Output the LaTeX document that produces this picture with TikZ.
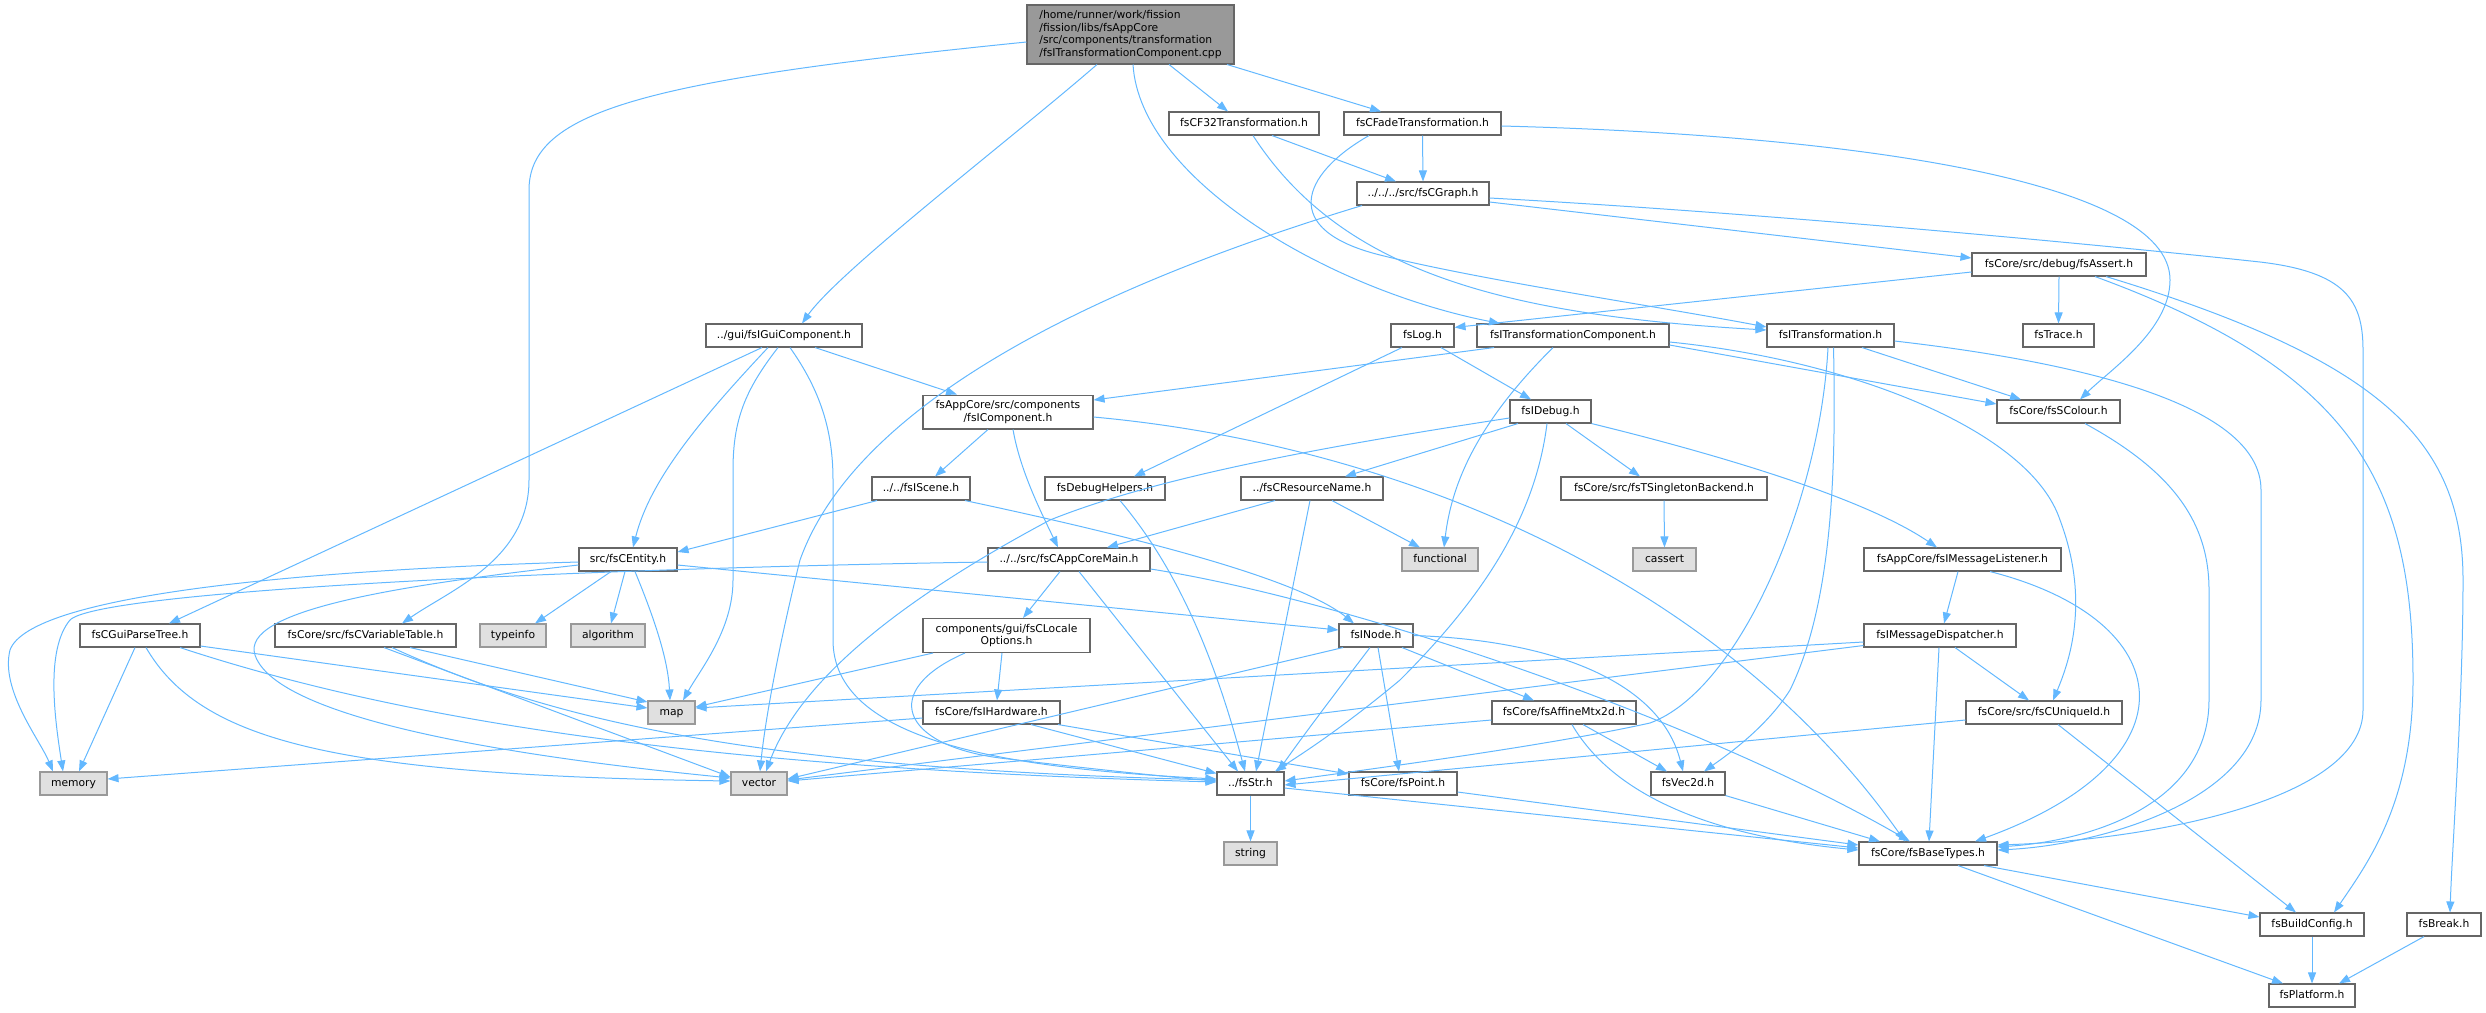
\documentclass[tikz,border=0pt]{standalone}
\usepackage{fontspec}
\setmainfont{DejaVu Sans}
\usetikzlibrary{arrows.meta}
\definecolor{edgecol}{HTML}{63B8FF}
\definecolor{boxline}{HTML}{666666}
\definecolor{extline}{HTML}{999999}
\definecolor{extfill}{HTML}{E0E0E0}
\definecolor{mainfill}{HTML}{999999}
\tikzset{
  box/.style={draw=boxline, line width=1.1pt, fill=white, minimum height=23pt, inner xsep=2pt, inner ysep=2pt, text height=8pt, text depth=2.4pt, anchor=center},
  mbox/.style={draw=boxline, line width=1.1pt, fill=white, inner xsep=2pt, inner ysep=5.5pt, align=center, anchor=center},
  ext/.style={box, draw=extline, fill=extfill},
  dep/.style={draw=edgecol, line width=1pt, -{Triangle[length=11pt,width=8pt]}}
}
\begin{document}
\begin{tikzpicture}[x=1pt,y=-1pt, font=\fontsize{10.75pt}{12.5pt}\selectfont]
\useasboundingbox (0,0) rectangle (2486,1012);
% nodes
\node[mbox, fill=mainfill, align=left, minimum width=207pt] (main) at (1130.5,34.5) {/home/runner/work/fission\\/fission/libs/fsAppCore\\/src/components/transformation\\/fsITransformationComponent.cpp};
\node[box, minimum width=150pt] (CF32) at (1244,123.5) {fsCF32Transformation.h};
\node[box, minimum width=157pt] (CFade) at (1422.5,123.5) {fsCFadeTransformation.h};
\node[box, minimum width=132pt] (CGraph) at (1423,193.5) {../../../src/fsCGraph.h};
\node[box, minimum width=174pt] (Assert) at (2059,264.5) {fsCore/src/debug/fsAssert.h};
\node[box, minimum width=156pt] (GuiComp) at (784,335.5) {../gui/fsIGuiComponent.h};
\node[box, minimum width=63pt] (Log) at (1422.5,335.5) {fsLog.h};
\node[box, minimum width=192pt] (ITC) at (1573,335.5) {fsITransformationComponent.h};
\node[box, minimum width=127pt] (ITrans) at (1830.5,335.5) {fsITransformation.h};
\node[box, minimum width=71pt] (Trace) at (2058.5,335.5) {fsTrace.h};
\node[mbox, minimum width=170pt] (IComp) at (1008,412) {fsAppCore/src/components\\/fsIComponent.h};
\node[box, minimum width=81pt] (IDebug) at (1550.5,411.5) {fsIDebug.h};
\node[box, minimum width=123pt] (SColour) at (2058.5,411.5) {fsCore/fsSColour.h};
\node[box, minimum width=98pt] (IScene) at (921,488.5) {../../fsIScene.h};
\node[box, minimum width=120pt] (DebugHelpers) at (1105,488.5) {fsDebugHelpers.h};
\node[box, minimum width=142pt] (CResName) at (1312,488.5) {../fsCResourceName.h};
\node[box, minimum width=206pt] (TSingleton) at (1664,488.5) {fsCore/src/fsTSingletonBackend.h};
\node[box, minimum width=98pt] (CEntity) at (628,559.5) {src/fsCEntity.h};
\node[box, minimum width=162pt] (CAppCoreMain) at (1069,559.5) {../../src/fsCAppCoreMain.h};
\node[ext, minimum width=76pt] (functional) at (1440,559.5) {functional};
\node[ext, minimum width=63pt] (cassert) at (1664.5,559.5) {cassert};
\node[box, minimum width=197pt] (IMsgListener) at (1962.5,559.5) {fsAppCore/fsIMessageListener.h};
\node[box, minimum width=120pt] (CGuiParseTree) at (140,635.5) {fsCGuiParseTree.h};
\node[box, minimum width=181pt] (CVarTable) at (365.5,635.5) {fsCore/src/fsCVariableTable.h};
\node[ext, minimum width=66pt] (typeinfo) at (513,635.5) {typeinfo};
\node[ext, minimum width=74pt] (algorithm) at (608,635.5) {algorithm};
\node[mbox, minimum width=167pt] (CLocale) at (1006.5,635.5) {components/gui/fsCLocale\\Options.h};
\node[box, minimum width=74pt] (INode) at (1376,635.5) {fsINode.h};
\node[box, minimum width=152pt] (IMsgDispatcher) at (1940,635.5) {fsIMessageDispatcher.h};
\node[ext, minimum width=47pt] (map) at (671.5,712.5) {map};
\node[box, minimum width=137pt] (IHardware) at (991.5,712.5) {fsCore/fsIHardware.h};
\node[box, minimum width=144pt] (AffineMtx) at (1564,712.5) {fsCore/fsAffineMtx2d.h};
\node[box, minimum width=156pt] (CUniqueId) at (2044,712.5) {fsCore/src/fsCUniqueId.h};
\node[ext, minimum width=67pt] (memory) at (73.5,783.5) {memory};
\node[ext, minimum width=56pt] (vector) at (759,783.5) {vector};
\node[box, minimum width=67pt] (Str) at (1250.5,783.5) {../fsStr.h};
\node[box, minimum width=108pt] (Point) at (1403,783.5) {fsCore/fsPoint.h};
\node[box, minimum width=74pt] (Vec2d) at (1688,783.5) {fsVec2d.h};
\node[ext, minimum width=53pt] (string) at (1250.5,853.5) {string};
\node[box, minimum width=138pt] (BaseTypes) at (1928,853.5) {fsCore/fsBaseTypes.h};
\node[box, minimum width=104pt] (BuildConfig) at (2312,924.5) {fsBuildConfig.h};
\node[box, minimum width=74pt] (Break) at (2444,924.5) {fsBreak.h};
\node[box, minimum width=86pt] (Platform) at (2312,995.5) {fsPlatform.h};
% edges
\draw[dep] ([xshift=-33.5pt]main.south) .. controls (1010,140) and (840,270) .. ([xshift=18pt]GuiComp.north);
\draw[dep] ([yshift=-7.5pt]main.west) .. controls (650,80) and (529,110) .. (529,190) -- (529,480) .. controls (529,560) and (450,590) .. ([xshift=36.5pt]CVarTable.north);
\draw[dep] ([xshift=2.5pt]main.south) .. controls (1140,180) and (1330,290) .. ([xshift=-73pt]ITC.north);
\draw[dep] ([xshift=38.5pt]main.south) -- ([xshift=-16pt]CF32.north);
\draw[dep] ([xshift=96.5pt]main.south) -- ([xshift=-41.5pt]CFade.north);
\draw[dep] ([xshift=28pt]CF32.south) -- ([xshift=-27pt]CGraph.north);
\draw[dep] ([xshift=9pt]CF32.south) .. controls (1340,270) and (1500,315) .. ([yshift=5.5pt]ITrans.west);
\draw[dep] (CFade.south) -- (CGraph.north);
\draw[dep] ([xshift=-53.5pt]CFade.south) .. controls (1300,175) and (1280,230) .. (1380,255) .. controls (1480,280) and (1650,305) .. ([yshift=8.5pt]ITrans.west);
\draw[dep] ([yshift=-2.5pt]CFade.east) .. controls (1850,135) and (2170,180) .. (2170,280) .. controls (2170,330) and (2110,370) .. ([xshift=21.5pt]SColour.north);
\draw[dep] ([xshift=-61pt]CGraph.south) .. controls (1050,300) and (850,420) .. (800,560) .. controls (780,640) and (765,720) .. ([xshift=1pt]vector.north);
\draw[dep] ([yshift=-8.5pt]CGraph.east) -- ([yshift=6.5pt]Assert.west);
\draw[dep] ([yshift=-4.5pt]CGraph.east) .. controls (1800,215) and (2150,250) .. (2260,262) .. controls (2345,272) and (2363,300) .. (2363,350) -- (2363,710) .. controls (2363,800) and (2150,840) .. ([yshift=8.5pt]BaseTypes.east);
\draw[dep] ([yshift=-7.5pt]Assert.west) -- ([yshift=-4pt]Log.north east);
\draw[dep] (Assert.south) -- (Trace.north);
\draw[dep] ([xshift=36pt]Assert.south) .. controls (2350,370) and (2413,480) .. (2413,680) .. controls (2413,800) and (2370,860) .. ([xshift=22pt]BuildConfig.north);
\draw[dep] ([xshift=47pt]Assert.south) .. controls (2380,360) and (2463,440) .. (2463,580) .. controls (2463,700) and (2452,850) .. ([xshift=6pt]Break.north);
\draw[dep] ([xshift=31.5pt]ITrans.south) -- ([xshift=-37.5pt]SColour.north);
\draw[dep] ([yshift=-5.5pt]ITrans.east) .. controls (2060,360) and (2261,400) .. (2261,490) -- (2261,700) .. controls (2261,800) and (2100,845) .. ([yshift=3.5pt]BaseTypes.east);
\draw[dep] ([xshift=-2.5pt]ITrans.south) .. controls (1820,500) and (1740,690) .. (1650,723) .. controls (1550,745) and (1400,765) .. ([yshift=2.5pt]Str.east);
\draw[dep] ([xshift=3pt]ITrans.south) .. controls (1836,460) and (1834,600) .. (1790,690) .. controls (1765,730) and (1720,760) .. ([xshift=16pt]Vec2d.north);
\draw[dep] ([xshift=-79pt]ITC.south) -- ([yshift=12pt]IComp.east);
\draw[dep] ([xshift=-20pt]ITC.south) .. controls (1480,420) and (1452,480) .. ([xshift=4pt]functional.north);
\draw[dep] ([yshift=-9.5pt]ITC.east) -- ([yshift=7.5pt]SColour.west);
\draw[dep] ([yshift=-6.5pt]ITC.east) .. controls (1850,360) and (2030,430) .. (2060,520) .. controls (2090,600) and (2070,660) .. ([xshift=9pt]CUniqueId.north);
\draw[dep] ([xshift=18.5pt]Log.south) -- ([xshift=-19.5pt]IDebug.north);
\draw[dep] ([xshift=-20.5pt]Log.south) -- ([xshift=29pt]DebugHelpers.north);
\draw[dep] ([xshift=-22pt]GuiComp.south) -- ([xshift=29pt]CGuiParseTree.north);
\draw[dep] ([xshift=-16pt]GuiComp.south) .. controls (700,420) and (650,480) .. ([xshift=5pt]CEntity.north);
\draw[dep] ([xshift=-6pt]GuiComp.south) .. controls (745,390) and (733,420) .. (733,470) -- (733,580) .. controls (733,630) and (700,670) .. ([xshift=11.5pt]map.north);
\draw[dep] ([xshift=6pt]GuiComp.south) .. controls (820,390) and (833,430) .. (833,480) -- (833,640) .. controls (833,740) and (1000,768) .. ([yshift=4.5pt]Str.west);
\draw[dep] ([xshift=31pt]GuiComp.south) -- ([xshift=-51pt]IComp.north);
\draw[dep] ([xshift=-20pt]IComp.south) -- ([xshift=14pt]IScene.north);
\draw[dep] ([xshift=5pt]IComp.south) .. controls (1020,470) and (1040,510) .. ([xshift=-11pt]CAppCoreMain.north);
\draw[dep] ([yshift=-5pt]IComp.east) .. controls (1400,445) and (1720,580) .. ([xshift=-23pt]BaseTypes.north);
\draw[dep] ([xshift=-44pt]IScene.south) -- ([yshift=7.5pt]CEntity.east);
\draw[dep] ([xshift=44pt]IScene.south) .. controls (1150,540) and (1300,580) .. ([xshift=-22pt]INode.north);
\draw[dep] ([xshift=15pt]DebugHelpers.south) .. controls (1170,560) and (1210,640) .. ([xshift=-5.5pt]Str.north);
\draw[dep] ([xshift=-37pt]CResName.south) -- ([xshift=38pt]CAppCoreMain.north);
\draw[dep] ([xshift=-2pt]CResName.south) -- ([xshift=5.5pt]Str.north);
\draw[dep] ([xshift=20pt]CResName.south) -- ([xshift=-20pt]functional.north);
\draw[dep] ([xshift=-32.5pt]IDebug.south) -- ([xshift=33pt]CResName.north);
\draw[dep] ([yshift=-6.5pt]IDebug.west) .. controls (1300,450) and (1150,480) .. (1050,520) .. controls (900,600) and (800,680) .. ([xshift=7pt]vector.north);
\draw[dep] ([xshift=15.5pt]IDebug.south) -- ([xshift=-24pt]TSingleton.north);
\draw[dep] ([xshift=-3.5pt]IDebug.south) .. controls (1535,520) and (1480,600) .. (1400,680) .. controls (1340,730) and (1300,755) .. ([xshift=24.5pt]Str.north);
\draw[dep] (IDebug.south east) .. controls (1700,450) and (1860,495) .. ([xshift=-25.5pt]IMsgListener.north);
\draw[dep] (TSingleton.south) -- (cassert.north);
\draw[dep] ([yshift=-2.5pt]CEntity.west) .. controls (300,570) and (30,595) .. (10,650) .. controls (0,690) and (40,740) .. ([xshift=-20.5pt]memory.north);
\draw[dep] ([yshift=-5.5pt]CEntity.west) .. controls (400,585) and (240,610) .. (255,655) .. controls (280,730) and (600,765) .. ([yshift=5.5pt]vector.west);
\draw[dep] ([xshift=-17pt]CEntity.south) -- ([xshift=22pt]typeinfo.north);
\draw[dep] ([xshift=-3pt]CEntity.south) -- ([xshift=3pt]algorithm.north);
\draw[dep] ([xshift=7pt]CEntity.south) .. controls (655,620) and (668,660) .. ([xshift=-1.5pt]map.north);
\draw[dep] ([yshift=-5.5pt]CEntity.east) -- ([yshift=5.5pt]INode.west);
\draw[dep] ([xshift=-9pt]CAppCoreMain.south) -- ([xshift=16.5pt]CLocale.north);
\draw[dep] ([xshift=10pt]CAppCoreMain.south) -- ([xshift=-12.5pt]Str.north);
\draw[dep] ([yshift=-2.5pt]CAppCoreMain.west) .. controls (600,568) and (100,590) .. (70,620) .. controls (45,650) and (55,720) .. ([xshift=-10.5pt]memory.north);
\draw[dep] ([yshift=-9.5pt]CAppCoreMain.east) .. controls (1350,600) and (1700,720) .. ([xshift=-18pt]BaseTypes.north);
\draw[dep] ([xshift=-4.5pt]CLocale.south) -- ([xshift=5.5pt]IHardware.north);
\draw[dep] ([xshift=-41.5pt]CLocale.south) .. controls (880,690) and (900,745) .. (1000,758) .. controls (1100,770) and (1180,778) .. ([yshift=2.5pt]Str.west);
\draw[dep] ([xshift=-73.5pt]CLocale.south) -- ([yshift=5.5pt]map.east);
\draw[dep] ([yshift=-5.5pt]IHardware.west) -- ([yshift=4.5pt]memory.east);
\draw[dep] ([xshift=39.5pt]IHardware.south) -- ([yshift=-2pt]Str.north west);
\draw[dep] ([xshift=66.5pt]IHardware.south) -- ([yshift=9.5pt]Point.west);
\draw[dep] ([xshift=-33pt]INode.south) -- ([yshift=4.5pt]vector.east);
\draw[dep] ([xshift=-6pt]INode.south) .. controls (1330,700) and (1300,740) .. ([xshift=27.5pt]Str.north);
\draw[dep] ([xshift=2pt]INode.south) -- ([xshift=-4pt]Point.north);
\draw[dep] ([xshift=26pt]INode.south) -- ([xshift=-30pt]AffineMtx.north);
\draw[dep] (INode.east) .. controls (1550,640) and (1660,680) .. ([xshift=-5pt]Vec2d.north);
\draw[dep] ([yshift=-7.5pt]AffineMtx.west) -- ([yshift=2.5pt]vector.east);
\draw[dep] ([xshift=19pt]AffineMtx.south) -- ([xshift=-21pt]Vec2d.north);
\draw[dep] ([xshift=8pt]AffineMtx.south) .. controls (1610,790) and (1700,835) .. ([yshift=3.5pt]BaseTypes.west);
\draw[dep] ([yshift=-8.5pt]Point.east) -- ([yshift=8.5pt]BaseTypes.west);
\draw[dep] (Vec2d.south east) -- ([xshift=-48pt]BaseTypes.north);
\draw[dep] (Str.south) -- (string.north);
\draw[dep] ([yshift=-4.5pt]Str.east) -- ([yshift=5.5pt]BaseTypes.west);
\draw[dep] ([xshift=-4.5pt]IMsgListener.south) -- ([xshift=4pt]IMsgDispatcher.north);
\draw[dep] ([xshift=27.5pt]IMsgListener.south) .. controls (2180,620) and (2200,760) .. ([xshift=47pt]BaseTypes.north);
\draw[dep] ([xshift=15pt]IMsgDispatcher.south) -- ([xshift=-15pt]CUniqueId.north);
\draw[dep] ([xshift=-1pt]IMsgDispatcher.south) -- ([xshift=1pt]BaseTypes.north);
\draw[dep] ([yshift=-6.5pt]IMsgDispatcher.west) -- ([yshift=4.5pt]map.east);
\draw[dep] ([yshift=-10pt]IMsgDispatcher.west) -- ([yshift=3.5pt]vector.east);
\draw[dep] ([yshift=-7.5pt]CUniqueId.west) -- ([yshift=-1.5pt]Str.east);
\draw[dep] ([xshift=14pt]CUniqueId.south) -- ([xshift=-16pt]BuildConfig.north);
\draw[dep] ([xshift=26.5pt]SColour.south) .. controls (2170,470) and (2209,520) .. (2209,590) -- (2209,700) .. controls (2209,800) and (2100,840) .. ([yshift=6.5pt]BaseTypes.east);
\draw[dep] ([xshift=56pt]BaseTypes.south) -- ([yshift=7.5pt]BuildConfig.west);
\draw[dep] ([xshift=30pt]BaseTypes.south) -- ([xshift=-29pt]Platform.north);
\draw[dep] (BuildConfig.south) -- (Platform.north);
\draw[dep] ([xshift=-20pt]Break.south) -- ([xshift=27pt]Platform.north);
\draw[dep] ([xshift=-5pt]CGuiParseTree.south) -- ([xshift=5.5pt]memory.north);
\draw[dep] ([xshift=6pt]CGuiParseTree.south) .. controls (200,740) and (330,775) .. ([yshift=2.5pt]vector.west);
\draw[dep] ([yshift=-10.5pt]CGuiParseTree.east) -- ([yshift=4.5pt]map.west);
\draw[dep] ([xshift=40pt]CGuiParseTree.south) .. controls (400,720) and (700,768) .. ([yshift=1.5pt]Str.west);
\draw[dep] ([xshift=44.5pt]CVarTable.south) -- ([yshift=10.5pt]map.west);
\draw[dep] ([xshift=18.5pt]CVarTable.south) -- ([yshift=6.5pt]vector.west);
\draw[dep] ([xshift=26.5pt]CVarTable.south) .. controls (550,720) and (750,768) .. ([yshift=3.5pt]Str.west);
\end{tikzpicture}
\end{document}
